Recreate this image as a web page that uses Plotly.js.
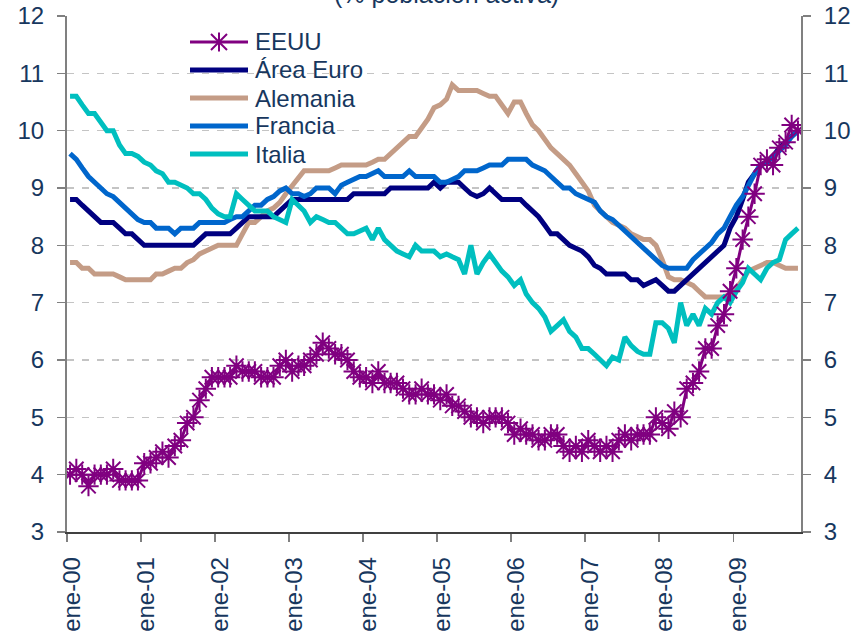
<!DOCTYPE html>
<html><head><meta charset="utf-8">
<script src="https://cdn.plot.ly/plotly-3.0.1.min.js"></script>
<style>html,body{margin:0;padding:0;background:#fff;}#chart{width:866px;height:632px;}</style>
</head><body><div id="chart"></div>
<script>
// ---- Data (monthly, ene-00 .. nov-09, % población activa) ----
const startYear = 2000;
const seriesNames = ['EEUU', 'Área Euro', 'Alemania', 'Francia', 'Italia'];
const EEUU = [
  4.0,4.1,4.0,3.8,4.0,4.0,4.0,4.1,3.9,3.9,3.9,3.9,
  4.2,4.2,4.3,4.4,4.3,4.5,4.6,4.9,5.0,5.3,5.5,5.7,
  5.7,5.7,5.7,5.9,5.8,5.8,5.8,5.7,5.7,5.7,5.9,6.0,
  5.8,5.9,5.9,6.0,6.1,6.3,6.2,6.1,6.1,6.0,5.8,5.7,
  5.7,5.6,5.8,5.6,5.6,5.6,5.5,5.4,5.4,5.5,5.4,5.4,
  5.3,5.4,5.2,5.2,5.1,5.0,5.0,4.9,5.0,5.0,5.0,4.9,
  4.7,4.8,4.7,4.7,4.6,4.6,4.7,4.7,4.5,4.4,4.5,4.4,
  4.6,4.5,4.4,4.5,4.4,4.6,4.7,4.6,4.7,4.7,4.7,5.0,
  4.9,4.8,5.1,5.0,5.5,5.6,5.8,6.2,6.2,6.6,6.8,7.2,
  7.6,8.1,8.5,8.9,9.4,9.5,9.4,9.7,9.8,10.1,10.0
];
const AreaEuro = [
  8.8,8.8,8.7,8.6,8.5,8.4,8.4,8.4,8.3,8.2,8.2,8.1,
  8.0,8.0,8.0,8.0,8.0,8.0,8.0,8.0,8.0,8.1,8.2,8.2,
  8.2,8.2,8.2,8.3,8.4,8.5,8.5,8.5,8.5,8.5,8.6,8.7,
  8.8,8.8,8.8,8.8,8.8,8.8,8.8,8.8,8.8,8.8,8.9,8.9,
  8.9,8.9,8.9,8.9,9.0,9.0,9.0,9.0,9.0,9.0,9.0,9.1,
  9.0,9.1,9.1,9.1,9.0,8.9,8.85,8.9,9.0,8.9,8.8,8.8,
  8.8,8.8,8.7,8.6,8.5,8.35,8.2,8.2,8.1,8.0,7.95,7.9,
  7.8,7.65,7.6,7.5,7.5,7.5,7.5,7.4,7.4,7.3,7.35,7.4,
  7.3,7.2,7.2,7.3,7.4,7.5,7.6,7.7,7.8,7.9,8.0,8.3,
  8.5,8.8,9.1,9.25,9.4,9.45,9.55,9.7,9.8,9.9,10.0
];
const Alemania = [
  7.7,7.7,7.6,7.6,7.5,7.5,7.5,7.5,7.45,7.4,7.4,7.4,
  7.4,7.4,7.5,7.5,7.55,7.6,7.6,7.7,7.75,7.85,7.9,7.95,
  8.0,8.0,8.0,8.0,8.2,8.4,8.4,8.5,8.6,8.65,8.75,8.9,
  9.05,9.2,9.3,9.3,9.3,9.3,9.3,9.35,9.4,9.4,9.4,9.4,
  9.4,9.45,9.5,9.5,9.6,9.7,9.8,9.9,9.9,10.05,10.2,10.4,
  10.45,10.55,10.8,10.7,10.7,10.7,10.7,10.65,10.6,10.6,10.45,10.3,
  10.5,10.5,10.3,10.1,10.0,9.85,9.7,9.6,9.5,9.4,9.25,9.1,
  8.95,8.7,8.6,8.5,8.4,8.35,8.3,8.2,8.15,8.1,8.1,8.0,
  7.75,7.45,7.4,7.4,7.35,7.3,7.2,7.1,7.1,7.1,7.1,7.15,
  7.25,7.4,7.55,7.6,7.65,7.7,7.7,7.65,7.6,7.6,7.6
];
const Francia = [
  9.6,9.5,9.35,9.2,9.1,9.0,8.9,8.85,8.75,8.65,8.55,8.45,
  8.4,8.4,8.3,8.3,8.3,8.2,8.3,8.3,8.3,8.4,8.4,8.4,
  8.4,8.4,8.45,8.5,8.5,8.6,8.7,8.7,8.8,8.85,8.95,9.0,
  8.9,8.9,8.85,8.9,9.0,9.0,9.0,8.9,9.05,9.1,9.15,9.2,
  9.2,9.25,9.3,9.2,9.2,9.2,9.2,9.3,9.2,9.2,9.2,9.2,
  9.1,9.1,9.15,9.2,9.3,9.3,9.3,9.35,9.4,9.4,9.4,9.5,
  9.5,9.5,9.5,9.4,9.35,9.3,9.2,9.1,9.0,9.0,8.9,8.85,
  8.8,8.75,8.6,8.5,8.45,8.35,8.25,8.15,8.05,7.95,7.85,7.75,
  7.65,7.6,7.6,7.6,7.6,7.75,7.85,7.95,8.05,8.2,8.3,8.5,
  8.7,8.85,9.05,9.25,9.4,9.45,9.55,9.65,9.75,9.9,10.0
];
const Italia = [
  10.6,10.6,10.45,10.3,10.3,10.15,10.0,10.0,9.75,9.6,9.6,9.55,
  9.45,9.4,9.3,9.25,9.1,9.1,9.05,9.0,8.9,8.9,8.8,8.65,
  8.55,8.5,8.5,8.9,8.8,8.7,8.6,8.6,8.6,8.5,8.45,8.4,
  8.8,8.7,8.6,8.4,8.5,8.45,8.4,8.4,8.3,8.2,8.2,8.25,
  8.3,8.1,8.3,8.1,8.0,7.9,7.85,7.8,8.0,7.9,7.9,7.9,
  7.8,7.85,7.8,7.75,7.5,8.0,7.5,7.7,7.85,7.7,7.55,7.45,
  7.3,7.4,7.15,7.0,6.9,6.75,6.5,6.6,6.7,6.5,6.4,6.2,
  6.2,6.1,6.0,5.9,6.05,6.0,6.4,6.25,6.15,6.1,6.1,6.65,
  6.65,6.55,6.3,7.0,6.6,6.8,6.6,6.9,6.8,7.0,7.1,7.0,
  7.2,7.35,7.6,7.5,7.4,7.6,7.7,7.75,8.1,8.2,8.3
];
const tickYears = [2000,2001,2002,2003,2004,2005,2006,2007,2008,2009];
const tickLabels = ['ene-00','ene-01','ene-02','ene-03','ene-04','ene-05','ene-06','ene-07','ene-08','ene-09'];
const titleText = '(% población activa)';

// ---- Categories: one mid-month date per value ----
const months = EEUU.map((_, i) => {
  const y = startYear + Math.floor(i / 12);
  const m = (i % 12) + 1;
  return y + '-' + String(m).padStart(2, '0') + '-16';
});
const tickVals = tickYears.map(y => y + '-01-01');

// ---- Styles ----
const FONT = 'Liberation Sans, Arial, sans-serif';
const NAVY_TXT = '#17375E';
const colors = { EEUU: '#800080', AreaEuro: '#000080', Alemania: '#C49C86', Francia: '#0066CC', Italia: '#00BFBF' };

const W = 866, H = 632;
const M = { l: 67, r: 65, t: 16, b: 100 };
const PW = W - M.l - M.r, PH = H - M.t - M.b;
const PX = x => (x - M.l) / PW;
const PY = y => 1 - (y - M.t) / PH;

const traces = [
  { name: 'Alemania', x: months, y: Alemania, mode: 'lines', line: { color: colors.Alemania, width: 5 } },
  { name: 'Área Euro', x: months, y: AreaEuro, mode: 'lines', line: { color: colors.AreaEuro, width: 5 } },
  { name: 'Francia', x: months, y: Francia, mode: 'lines', line: { color: colors.Francia, width: 5 } },
  { name: 'Italia', x: months, y: Italia, mode: 'lines', line: { color: colors.Italia, width: 5 } },
  { name: 'EEUU', x: months, y: EEUU, yaxis: 'y2', mode: 'lines+markers',
    line: { color: colors.EEUU, width: 3 },
    marker: { symbol: 'asterisk-open', size: 17, color: colors.EEUU, line: { color: colors.EEUU, width: 2 } } }
];

// ---- Custom legend ----
const legendColors = [colors.EEUU, colors.AreaEuro, colors.Alemania, colors.Francia, colors.Italia];
const legendWidths = [3, 5, 5, 5, 5];
const legRow0 = 42, legStep = 28, legX0 = 190, legX1 = 248, legTextX = 253;
const shapes = [
  { type: 'rect', layer: 'between', xref: 'paper', yref: 'paper',
    x0: PX(120), x1: PX(420), y0: PY(172), y1: PY(24), fillcolor: '#ffffff', line: { width: 0 } }
];
const annotations = [];
seriesNames.forEach((nm, k) => {
  const yy = legRow0 + k * legStep;
  shapes.push({ type: 'line', xref: 'paper', yref: 'paper', x0: PX(legX0), x1: PX(legX1), y0: PY(yy), y1: PY(yy),
    line: { color: legendColors[k], width: legendWidths[k] } });
  annotations.push({ text: nm, xref: 'paper', yref: 'paper', x: PX(legTextX), y: PY(yy), xanchor: 'left', yanchor: 'middle',
    showarrow: false, font: { family: FONT, size: 24, color: NAVY_TXT } });
});
// star marker in legend
shapes.push({ type: 'path', xref: 'paper', yref: 'paper', xsizemode: 'pixel', ysizemode: 'pixel',
  xanchor: PX((legX0 + legX1) / 2), yanchor: PY(legRow0),
  path: 'M-8,-8L8,8M-8,8L8,-8M0,-9.5L0,9.5', line: { color: colors.EEUU, width: 2 } });
// title (partially outside the page, as in the reference)
annotations.push({ text: titleText, xref: 'paper', yref: 'paper', x: PX(446.7), y: PY(-6), xanchor: 'center', yanchor: 'middle',
  showarrow: false, font: { family: FONT, size: 25, color: NAVY_TXT } });

const yCommon = {
  range: [3, 12], dtick: 1, tick0: 3, zeroline: false, fixedrange: true,
  tickfont: { family: FONT, size: 24, color: NAVY_TXT }
};

const layout = {
  width: W, height: H, margin: M,
  paper_bgcolor: '#ffffff', plot_bgcolor: '#ffffff',
  showlegend: false,
  font: { family: FONT, color: NAVY_TXT },
  xaxis: {
    type: 'date', range: ['2000-01-01', '2009-12-01'],
    tickmode: 'array', tickvals: tickVals, ticktext: tickLabels, tickangle: -90,
    ticks: 'outside', ticklen: 8, tickwidth: 1.5, tickcolor: '#808080',
    showline: true, linecolor: '#404040', linewidth: 1.5, showgrid: false, zeroline: false,
    tickfont: { family: FONT, size: 24, color: NAVY_TXT }, ticklabelstandoff: 6, ticklabelshift: 5
  },
  yaxis: Object.assign({}, yCommon, {
    showgrid: true, gridcolor: '#C4C4C4', griddash: '7px,8px', gridwidth: 1.5,
    showline: true, linecolor: '#808080', linewidth: 2,
    ticks: 'outside', ticklen: 8, tickwidth: 1.5, tickcolor: '#808080', ticklabelstandoff: 8
  }),
  yaxis2: Object.assign({}, yCommon, {
    overlaying: 'y', side: 'right', showgrid: false,
    showline: true, linecolor: '#808080', linewidth: 2,
    ticks: 'outside', ticklen: 8, tickwidth: 1.5, tickcolor: '#808080', ticklabelstandoff: 8
  }),
  yaxis3: Object.assign({}, yCommon, {
    overlaying: 'y', side: 'right', showgrid: false, showline: false, showticklabels: false,
    ticks: 'inside', ticklen: 8, tickwidth: 1.5, tickcolor: '#808080'
  }),
  shapes: shapes,
  annotations: annotations
};

Plotly.newPlot('chart', traces, layout, { staticPlot: true, displayModeBar: false });
</script>
</body></html>
